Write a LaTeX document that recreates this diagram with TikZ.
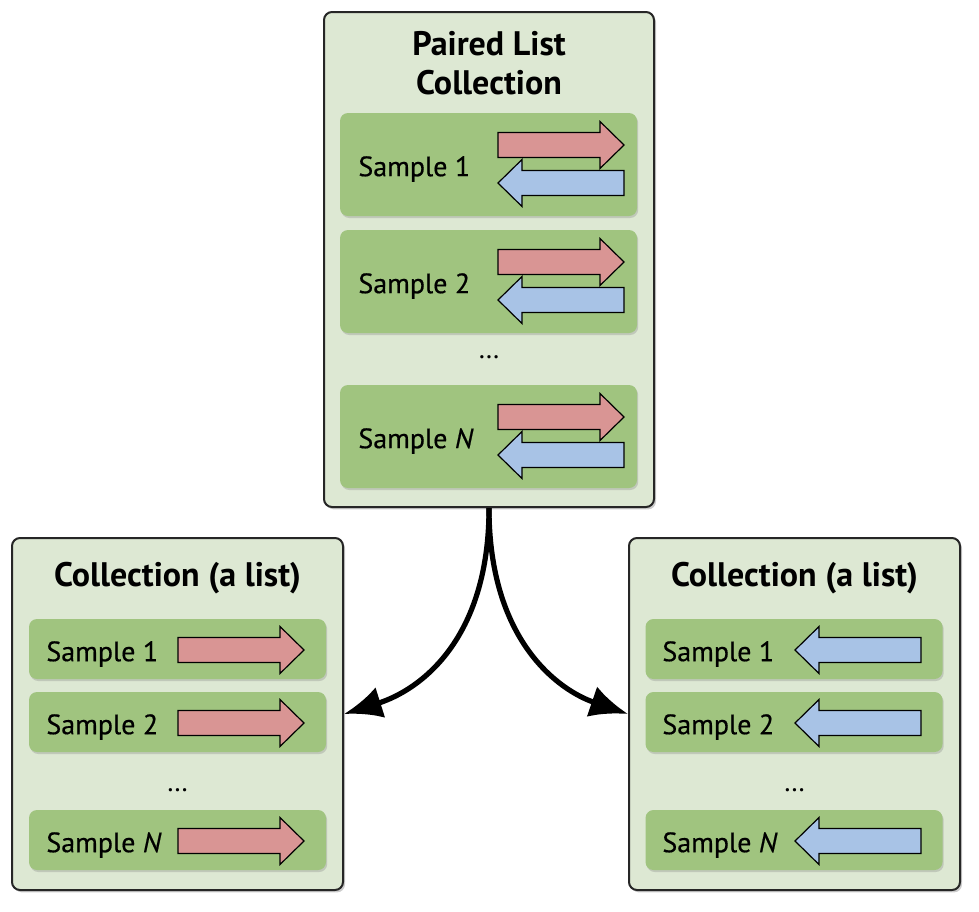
\documentclass[tikz,border=0pt]{standalone}
\usepackage{fontspec}
\setmainfont{PT Sans}
\newfontfamily\sampfont{PT Sans}[FakeBold=0.5]
\usetikzlibrary{shadows,arrows.meta}

\definecolor{paleg}{HTML}{DDE8D3}
\definecolor{sampg}{HTML}{A0C47F}
\definecolor{redar}{HTML}{D99594}
\definecolor{bluar}{HTML}{A8C3E6}

\tikzset{
  holder/.style={draw=black!85, line width=1pt, fill=paleg, rounded corners=4pt,
    drop shadow={shadow xshift=1pt, shadow yshift=-1.2pt, opacity=.4}},
  sampbig/.style={fill=sampg, rounded corners=4pt, minimum width=148.5pt, minimum height=51.5pt,
    drop shadow={shadow xshift=.6pt, shadow yshift=-1pt, opacity=.3}},
  sampsmall/.style={sampbig, minimum height=30pt},
  heading/.style={font=\bfseries\fontsize{17}{19.5}\selectfont, align=center},
  samptext/.style={font=\sampfont\fontsize{14}{16}\selectfont, anchor=west, inner sep=0pt},
  flow/.style={line width=2.6pt, -{Latex[length=19pt,width=16pt]}},
  fwd/.pic={\draw[fill=redar, line width=.6pt] (0,-12.5) -- (102,-12.5) -- (102,-23.5) -- (126,0)
    -- (102,23.5) -- (102,12.5) -- (0,12.5) -- cycle;},
  bwd/.pic={\draw[fill=bluar, line width=.6pt] (0,0) -- (24,-23.5) -- (24,-12.5) -- (126,-12.5)
    -- (126,12.5) -- (24,12.5) -- (24,23.5) -- cycle;}
}

\begin{document}
\begin{tikzpicture}[x=0.5pt, y=-0.5pt]
\useasboundingbox (0,0) rectangle (979,911);

% paired list collection
\node[holder, minimum width=165pt, minimum height=247.5pt] (top) at (489,259.5) {};
\node[heading] (toptitle) at (489,63) {Paired List\\Collection};
\node[sampbig] (t1) at (488.5,164.5) {};
\node[sampbig] (t2) at (488.5,281.5) {};
\node[sampbig] (tn) at (488.5,436.5) {};
\node[samptext] (t1l) at (358,169) {Sample 1};
\node[samptext] (t2l) at (358,286) {Sample 2};
\node[samptext] (tnl) at (358,441) {Sample \textit{N}};
\node[font=\fontsize{14}{16}\selectfont] (tdots) at (489,357) {\ldots};
\foreach \y in {0,117,272} {
  \pic at (498,145+\y) {fwd};
  \pic at (498,183+\y) {bwd};
}

% the two collections
\node[holder, minimum width=165.5pt, minimum height=176pt] (lcol) at (177.5,714) {};
\node[holder, minimum width=165.5pt, minimum height=176pt] (rcol) at (794.5,714) {};
\node[heading] (ltitle) at (177.5,578) {Collection (a list)};
\node[heading] (rtitle) at (794.5,578) {Collection (a list)};

\node[sampsmall] (l1) at (177.5,649) {};
\node[sampsmall] (l2) at (177.5,722) {};
\node[sampsmall] (ln) at (177.5,840) {};
\node[sampsmall] (r1) at (794,649) {};
\node[sampsmall] (r2) at (794,722) {};
\node[sampsmall] (rn) at (794,840) {};

\node[samptext] (l1l) at (46,654) {Sample 1};
\node[samptext] (l2l) at (46,727) {Sample 2};
\node[samptext] (lnl) at (46,845) {Sample \textit{N}};
\node[samptext] (r1l) at (662,654) {Sample 1};
\node[samptext] (r2l) at (662,727) {Sample 2};
\node[samptext] (rnl) at (662,845) {Sample \textit{N}};
\node[font=\fontsize{14}{16}\selectfont] (ldots) at (177.5,790) {\ldots};
\node[font=\fontsize{14}{16}\selectfont] (rdots) at (794.5,790) {\ldots};

\foreach \y in {650,723,841} {
  \pic at (178,\y) {fwd};
  \pic at (795,\y) {bwd};
}

% splitting
\draw[flow] (top.south) .. controls (489,640) and (420,690) .. (lcol.east);
\draw[flow] (top.south) .. controls (489,640) and (558,690) .. (rcol.west);

\end{tikzpicture}
\end{document}
